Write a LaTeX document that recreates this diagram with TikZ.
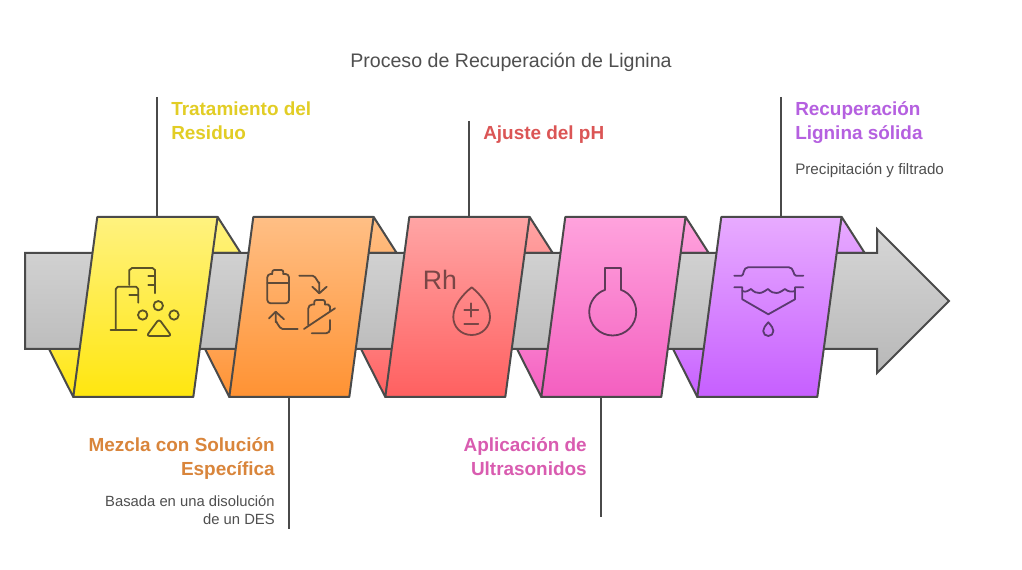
\documentclass[tikz,border=0pt]{standalone}
\usepackage{fontspec}
\setmainfont{Liberation Sans}
\definecolor{edge}{HTML}{4A4A4A}
\definecolor{gt}{HTML}{D6D6D6}\definecolor{gb}{HTML}{B8B8B8}
\definecolor{yt}{HTML}{FFF27F}\definecolor{yb}{HTML}{FFE60F}
\definecolor{ot}{HTML}{FFBF85}\definecolor{ob}{HTML}{FF9233}
\definecolor{rt}{HTML}{FFA5A5}\definecolor{rb}{HTML}{FF6060}
\definecolor{pt}{HTML}{FFA3DD}\definecolor{pb}{HTML}{F45FC0}
\definecolor{vt}{HTML}{E8ABFF}\definecolor{vb}{HTML}{C65FFF}
\definecolor{yl}{HTML}{E2CD25}\definecolor{ol}{HTML}{D9853B}
\definecolor{rl}{HTML}{DB5555}\definecolor{pl}{HTML}{D95CB0}
\definecolor{vl}{HTML}{B560E0}\definecolor{txt}{HTML}{4F4F4F}
\definecolor{yi}{HTML}{5A5226}\definecolor{oi}{HTML}{5E4A38}
\definecolor{ri}{HTML}{7A4646}\definecolor{pi}{HTML}{5E3A58}
\definecolor{vi}{HTML}{5A3A70}
\tikzset{
  outline/.style={draw=edge,line width=1.5pt,line join=round},
  leader/.style={draw=edge,line width=1.5pt},
  icon/.style={line width=1.35pt,line cap=round,line join=round},
  headline/.style={inner sep=0pt,font=\fontsize{14.2}{18}\selectfont\bfseries},
  bodytext/.style={inner sep=0pt,text=txt,font=\fontsize{11.4}{13.5}\selectfont},
}
\newcommand{\wedges}[3]{%
  \path[outline,top color=#2,bottom color=#2!80!#3] (#1+144.7,217) -- (#1+167.7,253) -- (#1+138,253) -- cycle;
  \path[outline,top color=#2!35!#3,bottom color=#3] (#1-24,349) -- (#1+0.3,397) -- (#1+8,349) -- cycle;
}
\newcommand{\card}[3]{%
  \path[outline,top color=#2,bottom color=#3] (#1+24.3,217) -- (#1+144.5,217) -- (#1+120.3,397) -- (#1+0.3,397) -- cycle;
}
\begin{document}
\begin{tikzpicture}[x=0.75pt,y=-0.75pt]
\useasboundingbox (0,0) rectangle (1022,570);
\fill[white] (0,0) rectangle (1022,570);
\wedges{73}{yt}{yb}
\wedges{229}{ot}{ob}
\wedges{385}{rt}{rb}
\wedges{541}{pt}{pb}
\wedges{697}{vt}{vb}
\path[outline,line join=miter,top color=gt,bottom color=gb] (25,253) -- (877,253) -- (877,229) -- (949,301) -- (877,373) -- (877,349) -- (25,349) -- cycle;
\card{73}{yt}{yb}
\card{229}{ot}{ob}
\card{385}{rt}{rb}
\card{541}{pt}{pb}
\card{697}{vt}{vb}

% icon 1
\begin{scope}[icon,draw=yi]
\draw (129.3,285) -- (129.3,270) to[out=-90,in=180] (132,268) -- (152.5,268) to[out=0,in=-90] (155,270) -- (155,293.3);
\draw (148.3,276) -- (155,276) (148.3,285) -- (155,285);
\draw (115.7,330) -- (115.7,289) to[out=-90,in=180] (118,286.7) -- (136,286.7) to[out=0,in=-90] (138.3,289) -- (138.3,302.7);
\draw (129.3,295) -- (138.3,295) (110.5,330) -- (136.7,330);
\draw (158.3,305.7) circle (4.7) (142.7,315) circle (4.7) (174,315) circle (4.7);
\draw[rounded corners=2.2pt] (159,319) -- (146.5,336) -- (171.5,336) -- cycle;
\end{scope}
% icon 2
\begin{scope}[icon,draw=oi]
\draw[rounded corners=2.5pt] (272.3,274) -- (267.3,274) -- (267.3,303.3) -- (289,303.3) -- (289,274) -- (283.3,274);
\draw[rounded corners=1.5pt] (272.3,274) -- (272.3,270) -- (283.3,270) -- (283.3,274);
\draw (267.3,282.7) -- (289,282.7);
\draw (299.3,275.7) -- (312.5,275.7) to[out=0,in=-90] (319.3,282.5) -- (319.3,293.3);
\draw (312.3,286.7) -- (319.3,293.3) -- (326.7,286.7);
\draw[rounded corners=3pt] (308.3,325) -- (308.3,304.5) -- (314.3,304.5);
\draw (325,304.5) -- (328,304.5) -- (330,306.5) -- (330,311);
\draw[rounded corners=1.5pt] (314.3,304.5) -- (314.3,300) -- (325,300) -- (325,304.5);
\draw (304,329) -- (335,308.3);
\draw[rounded corners=3pt] (330,320) -- (330,333.3) -- (311.7,333.3);
\draw (297.7,329) -- (282.5,329) to[out=180,in=90] (275.7,322) -- (275.7,311.7);
\draw (268.9,318.5) -- (275.7,311.7) -- (284,319.3);
\end{scope}
% icon 3
\begin{scope}[icon,draw=ri]
\node (rhmark) [inner sep=0pt,anchor=base west,text=ri,font=\fontsize{20}{24}\selectfont] at (422,289.5) {Rh};
\draw (471.7,287.3) .. controls (462,295) and (453.3,306) .. (453.3,317) .. controls (453.3,327) and (461,335) .. (471.7,335) .. controls (482,335) and (490,327) .. (490,317) .. controls (490,306) and (481,295) .. (471.7,287.3) -- cycle;
\draw (464.3,310) -- (478.3,310) (471.3,303.3) -- (471.3,316.7) (464.3,324) -- (478.3,324);
\end{scope}
% icon 4
\begin{scope}[icon,draw=pi]
\draw (604.7,290) -- (604.7,268.3) -- (621.3,268.3) -- (621.3,290);
\draw (621.3,290) .. controls (630,293) and (636.2,302) .. (636.2,312) .. controls (636.2,325) and (625.7,335.5) .. (612.7,335.5) .. controls (599.7,335.5) and (589.2,325) .. (589.2,312) .. controls (589.2,302) and (596,293) .. (604.7,290);
\end{scope}
% icon 5
\begin{scope}[icon,draw=vi]
\draw (734.3,275.7) -- (741.7,275.7) .. controls (744,275.7) and (743,267.3) .. (748,267.3) -- (789,267.3) .. controls (794,267.3) and (793,275.7) .. (796,275.7) -- (803.3,275.7);
\draw (734.3,287.3) -- (742.3,287.3) -- (742.3,299.3) -- (768.3,314.3) -- (795,299.3) -- (795,287.3) -- (803.3,287.3);
\draw (742.3,291) .. controls (746,293) and (749,290) .. (751,289) .. controls (754,292) and (757,293.5) .. (759.5,293) .. controls (762,293) and (765,291) .. (768,289) .. controls (771,292) and (774,293.5) .. (776.5,293) .. controls (779,293) and (782,291) .. (785,289) .. controls (788,292) and (792,292) .. (795,291);
\draw (768.3,322.3) .. controls (765,326) and (763.2,328.5) .. (763.2,331) .. controls (763.2,334) and (765.5,336) .. (768.3,336) .. controls (771.1,336) and (773.4,334) .. (773.4,331) .. controls (773.4,328.5) and (771.6,326) .. (768.3,322.3) -- cycle;
\end{scope}

% connectors
\coordinate (c1) at (157,217); \coordinate (e1) at (157,97);
\coordinate (c2) at (289,397); \coordinate (e2) at (289,529);
\coordinate (c3) at (469,217); \coordinate (e3) at (469,121);
\coordinate (c4) at (601,397); \coordinate (e4) at (601,517);
\coordinate (c5) at (781,217); \coordinate (e5) at (781,97);
\draw[leader] (e1) -- (c1);
\draw[leader] (c2) -- (e2);
\draw[leader] (e3) -- (c3);
\draw[leader] (c4) -- (e4);
\draw[leader] (e5) -- (c5);

% text
\node (title) [inner sep=0pt,anchor=base,text=txt,font=\fontsize{14.7}{18}\selectfont] at (511,67.5) {Proceso de Recuperación de Lignina};
\node (t1) [headline,text=yl,anchor=north west,align=left] at (171,102) {Tratamiento del\\Residuo};
\node (t3) [headline,text=rl,anchor=north west,align=left] at (483,126) {Ajuste del pH};
\node (t5) [headline,text=vl,anchor=north west,align=left] at (795,101.5) {Recuperación\\Lignina sólida};
\node (b5) [bodytext,anchor=north west,align=left] at (795,163) {Precipitación y filtrado};
\node (t2) [headline,text=ol,anchor=north east,align=right] at (275,437.5) {Mezcla con Solución\\Específica};
\node (b2) [bodytext,anchor=north east,align=right,font=\fontsize{11.1}{13.5}\selectfont] at (275,495) {Basada en una disolución\\de un DES};
\node (t4) [headline,text=pl,anchor=north east,align=right] at (587,437.5) {Aplicación de\\Ultrasonidos};
\end{tikzpicture}
\end{document}
